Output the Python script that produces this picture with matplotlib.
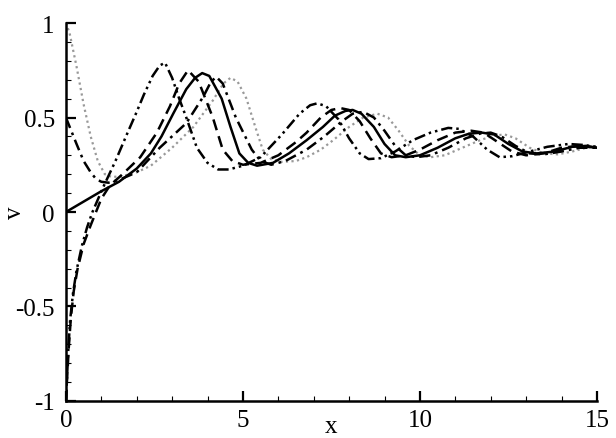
import matplotlib
matplotlib.use("Agg")
import matplotlib.pyplot as plt
from matplotlib.ticker import MultipleLocator

# ---- data ----
x_solid = [0, 0.5, 1.0, 1.5, 2.0, 2.4, 2.7, 3.03, 3.4, 3.65, 3.85, 4.05, 4.4, 4.65, 4.9, 5.15, 5.4,
           5.85, 6.3, 6.8, 7.26, 7.6, 7.9, 8.1, 8.35, 8.7, 9.0, 9.3, 9.6, 10.0, 10.5, 11.0, 11.4,
           11.75, 12.1, 12.5, 12.9, 13.3, 13.8, 14.3, 14.7, 15]
y_solid = [0, 0.055, 0.11, 0.16, 0.23, 0.31, 0.40, 0.52, 0.65, 0.71, 0.735, 0.72, 0.60, 0.45, 0.31,
           0.26, 0.245, 0.26, 0.31, 0.38, 0.45, 0.51, 0.535, 0.54, 0.52, 0.45, 0.36, 0.30, 0.29,
           0.30, 0.34, 0.39, 0.415, 0.42, 0.41, 0.36, 0.32, 0.31, 0.32, 0.345, 0.35, 0.34]

x_dash = [0, 0.04, 0.08, 0.14, 0.22, 0.33, 0.5, 0.7, 0.85, 1.0, 1.24, 1.6, 2.1, 2.57, 2.94, 3.2,
          3.45, 3.75, 4.15, 4.43, 4.7, 5.0, 5.5, 6.0, 6.5, 6.8, 7.2, 7.5, 7.75, 8.0, 8.3, 8.6, 8.9,
          9.2, 9.6, 10.0, 10.5, 11.0, 11.45, 11.8, 12.2, 12.6, 13.0, 13.5, 14.0, 14.5, 15]
y_dash = [-1, -0.86, -0.72, -0.56, -0.42, -0.30, -0.17, -0.07, 0.0, 0.07, 0.14, 0.20, 0.29, 0.42,
          0.56, 0.68, 0.75, 0.69, 0.50, 0.33, 0.27, 0.25, 0.26, 0.30, 0.37, 0.42, 0.50, 0.54, 0.55,
          0.54, 0.48, 0.39, 0.31, 0.29, 0.30, 0.33, 0.38, 0.42, 0.43, 0.42, 0.37, 0.32, 0.30, 0.31,
          0.34, 0.35, 0.34]

x_dashdot = [0, 0.15, 0.3, 0.5, 0.7, 0.85, 1.0, 1.2, 1.5, 2.0, 2.65, 3.4, 3.88, 4.1, 4.25, 4.43,
             4.8, 5.25, 5.5, 5.8, 6.2, 6.8, 7.3, 7.8, 8.1, 8.4, 8.7, 9.0, 9.3, 9.6, 9.9, 10.3,
             10.8, 11.3, 11.7, 12.0, 12.3, 12.7, 13.1, 13.5, 14.0, 14.5, 15]
y_dashdot = [0.5, 0.43, 0.36, 0.27, 0.21, 0.175, 0.16, 0.155, 0.17, 0.21, 0.34, 0.47, 0.61, 0.69,
             0.715, 0.68, 0.50, 0.33, 0.27, 0.25, 0.27, 0.33, 0.40, 0.48, 0.52, 0.53, 0.50, 0.43,
             0.35, 0.30, 0.29, 0.30, 0.34, 0.39, 0.415, 0.42, 0.40, 0.35, 0.31, 0.305, 0.32, 0.34,
             0.34]

x_ddd = [0, 0.03, 0.07, 0.12, 0.2, 0.3, 0.45, 0.6, 0.75, 1.05, 1.4, 1.72, 2.0, 2.2, 2.45, 2.65,
         2.8, 3.0, 3.2, 3.4, 3.7, 4.0, 4.3, 4.6, 5.0, 5.5, 6.1, 6.6, 6.9, 7.1, 7.35, 7.7, 8.0, 8.3,
         8.55, 8.9, 9.3, 9.8, 10.3, 10.8, 11.1, 11.5, 11.9, 12.25, 12.6, 13.1, 13.6, 14.2, 14.6, 15]
y_ddd = [-1, -0.88, -0.72, -0.57, -0.43, -0.31, -0.18, -0.08, 0.0, 0.13, 0.27, 0.41, 0.53, 0.62,
         0.72, 0.775, 0.79, 0.71, 0.60, 0.50, 0.34, 0.26, 0.225, 0.225, 0.245, 0.29, 0.41, 0.52,
         0.565, 0.575, 0.56, 0.49, 0.39, 0.31, 0.28, 0.285, 0.32, 0.38, 0.42, 0.445, 0.44, 0.40,
         0.33, 0.29, 0.295, 0.32, 0.345, 0.36, 0.355, 0.345]

x_dot = [0, 0.1, 0.3, 0.5, 0.7, 0.9, 1.1, 1.3, 1.6, 2.0, 2.4, 3.0, 3.6, 4.15, 4.45, 4.65, 4.85,
         5.1, 5.35, 5.56, 5.8, 6.1, 6.5, 6.8, 7.2, 7.55, 8.0, 8.4, 8.8, 9.1, 9.4, 9.7, 10.0, 10.3,
         10.7, 11.2, 11.7, 12.1, 12.4, 12.7, 13.1, 13.5, 13.9, 14.3, 14.7, 15]
y_dot = [1.0, 0.95, 0.77, 0.57, 0.40, 0.27, 0.20, 0.185, 0.19, 0.21, 0.245, 0.34, 0.45, 0.59, 0.68,
         0.71, 0.69, 0.60, 0.45, 0.33, 0.28, 0.265, 0.27, 0.29, 0.33, 0.38, 0.45, 0.50, 0.52, 0.50,
         0.43, 0.35, 0.30, 0.29, 0.30, 0.34, 0.38, 0.405, 0.41, 0.39, 0.34, 0.31, 0.305, 0.32,
         0.34, 0.345]

x_ticks = [0, 5, 10, 15]
x_ticklabels = ["0", "5", "10", "15"]
y_ticks = [-1, -0.5, 0, 0.5, 1]
y_ticklabels = ["-1", "-0.5", "0", "0.5", "1"]

# ---- figure ----
plt.rcParams['font.family'] = ['Liberation Serif', 'DejaVu Serif']
fig = plt.figure(figsize=(6.16, 4.39), dpi=100)
ax = fig.add_axes([0.107, 0.0843, 0.862, 0.861])

lw = 1.8
ax.plot(x_dot, y_dot, color='#999999', lw=1.6, dashes=(1.0, 1.5))
ax.plot(x_dashdot, y_dashdot, color='black', lw=lw, dashes=(4.5, 2.0, 1.1, 2.0))
ax.plot(x_ddd, y_ddd, color='black', lw=lw, dashes=(4.5, 1.6, 1.0, 1.6, 1.0, 1.6))
ax.plot(x_dash, y_dash, color='black', lw=lw, dashes=(4.5, 2.5))
ax.plot(x_solid, y_solid, color='black', lw=lw)

ax.set_xlim(0, 15)
ax.set_ylim(-1, 1)
ax.set_xticks(x_ticks)
ax.set_xticklabels(x_ticklabels)
ax.set_yticks(y_ticks)
ax.set_yticklabels(y_ticklabels)
ax.xaxis.set_minor_locator(MultipleLocator(1))
ax.yaxis.set_minor_locator(MultipleLocator(0.1))

for s in ['top', 'right']:
    ax.spines[s].set_visible(False)
for s in ['left', 'bottom']:
    ax.spines[s].set_linewidth(1.8)

ax.tick_params(which='major', direction='in', length=7, width=1.6, labelsize=18, pad=6)
ax.tick_params(which='minor', direction='in', length=3.5, width=0.8)
ax.tick_params(axis='y', which='major', pad=8)

ax.set_xlabel('x', fontsize=18, labelpad=-12)
ax.set_ylabel('v', fontsize=18, labelpad=-8)

fig.savefig('out.png', dpi=100)
